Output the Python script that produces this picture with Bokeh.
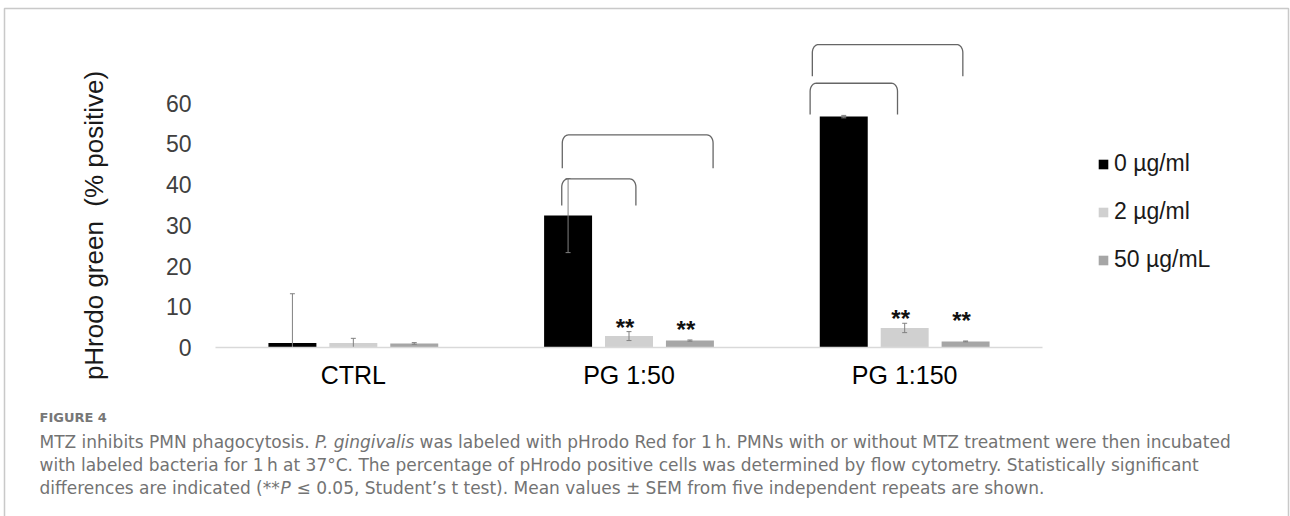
import numpy as np
from bokeh.plotting import figure
from bokeh.models import (Range1d, FixedTicker, Legend, LegendItem,
                          Label, BoxAnnotation, ColumnDataSource)
from bokeh.core.properties import value
from bokeh.embed import file_html
from bokeh.resources import INLINE

# ---------------- data ----------------
groups = ["CTRL", "PG 1:50", "PG 1:150"]
series = ["0 µg/ml", "2 µg/ml", "50 µg/mL"]
colors = ["#000000", "#d0d0d0", "#a6a6a6"]
mean_0 = [1.1, 32.4, 56.7]
mean_2 = [1.1, 2.8, 4.8]
mean_50 = [1.0, 1.7, 1.5]
sem_0 = [12.1, 9.1, 0.3]
sem_2 = [1.15, 1.1, 1.15]
sem_50 = [0.2, 0.15, 0.1]
y_ticks = [0, 10, 20, 30, 40, 50, 60]
y_title = "pHrodo green\u00a0 (% positive)"

# significance brackets: group index, left/right offset (category units), top, leg bottom
br_group = [1, 1, 2, 2]
br_left = [-0.244, -0.242, -0.343, -0.335]
br_right = [0.025, 0.305, -0.026, 0.211]
br_top = [41.4, 52.2, 64.9, 74.4]
br_bottom = [34.9, 44.0, 57.2, 66.6]

# "**" markers: group index, series index, visual centre (y units)
star_group = [1, 1, 2, 2]
star_series = [1, 2, 1, 2]
star_center = [5.4, 5.0, 7.5, 7.0]

caption_head = "FIGURE 4"
caption_lines = [
    ["MTZ inhibits PMN phagocytosis.", "P. gingivalis",
     "was labeled with pHrodo Red for 1\u2009h. PMNs with or without MTZ treatment were then incubated"],
    ["with labeled bacteria for 1\u2009h at 37\u00b0C. The percentage of pHrodo positive cells was determined by flow cytometry. Statistically significant"],
    ["differences are indicated (**", "P",
     "\u2264 0.05, Student\u2019s t test). Mean values \u00b1 SEM from five independent repeats are shown."],
]
caption_seg_x = [[39, 314.5, 419], [39], [39, 280, 296]]
caption_italic = [[False, True, False], [False], [False, True, False]]
caption_baseline = [441, 464, 487]

# ---------------- layout constants ----------------
W, H = 1290, 516
PX_X = 275.67          # pixels per category
X0 = 215               # pixel of category axis start
PX_Y = 4.072           # pixels per y unit
Y0 = 347               # pixel of y = 0
offsets = [-0.221, 0.0, 0.221]
bar_w = 0.174
FONT = "Liberation Sans"
CAP_FONT = "DejaVu Sans"

p = figure(width=W, height=H, output_backend="svg", toolbar_location=None,
           x_range=Range1d(-X0 / PX_X, (W - X0) / PX_X),
           y_range=Range1d(-(H - Y0) / PX_Y, Y0 / PX_Y),
           min_border_left=0, min_border_right=0, min_border_top=0, min_border_bottom=0)
p.outline_line_color = None
p.xgrid.grid_line_color = None
p.ygrid.grid_line_color = None
p.background_fill_color = "white"
p.border_fill_color = "white"

means = [mean_0, mean_2, mean_50]
sems = [sem_0, sem_2, sem_50]
renderers = []
for k in range(3):
    xs = [g + 0.5 + offsets[k] for g in range(len(groups))]
    src = ColumnDataSource(dict(x=xs, top=means[k]))
    r = p.vbar(x="x", top="top", width=bar_w, source=src,
               fill_color=colors[k], line_color=None)
    renderers.append(r)

# error bars (clipped at the axis minimum, as in the original)
cw = 0.009
for k in range(3):
    xs = np.array([g + 0.5 + offsets[k] for g in range(len(groups))])
    m = np.array(means[k]); s = np.array(sems[k])
    lo, hi = np.maximum(m - s, 0), m + s
    p.segment(x0=xs, y0=lo, x1=xs, y1=hi, line_color="#808080", line_width=1)
    p.segment(x0=xs - cw, y0=hi, x1=xs + cw, y1=hi, line_color="#808080", line_width=1)
    keep = (m - s) > 0
    p.segment(x0=xs[keep] - cw, y0=lo[keep], x1=xs[keep] + cw, y1=lo[keep],
              line_color="#808080", line_width=1)

# brackets
rx, ry = 0.022, 2.0
t = np.linspace(0, np.pi / 2, 10)
bxs, bys = [], []
for g, L0, R0, top, bot in zip(br_group, br_left, br_right, br_top, br_bottom):
    c = g + 0.5
    L, R = c + L0, c + R0
    x = [L] + list(L + rx - rx * np.cos(t)) + list(R - rx + rx * np.sin(t)) + [R]
    y = [bot] + list(top - ry + ry * np.sin(t)) + list(top - ry + ry * np.cos(t)) + [bot]
    bxs.append(x); bys.append(y)
p.multi_line(xs=bxs, ys=bys, line_color="#666666", line_width=1.3)

# stars
sx = [g + 0.5 + offsets[s] for g, s in zip(star_group, star_series)]
sy = [c - 2.0 / PX_Y for c in star_center]
p.text(x=sx, y=sy, text=["**"] * len(sx), text_font=value(FONT),
       text_font_size="24px", text_font_style="bold", text_align="center",
       text_baseline="alphabetic", x_offset=-4, text_color="#111111")

# axes (fixed inside the full-canvas frame)
p.xaxis.fixed_location = 0
p.xaxis.bounds = (0, len(groups))
p.xaxis.ticker = FixedTicker(ticks=[g + 0.5 for g in range(len(groups))])
p.xaxis.major_label_overrides = {g + 0.5: name for g, name in enumerate(groups)}
p.xaxis.axis_line_color = "#d9d9d9"
p.xaxis.axis_line_width = 1.5
p.xaxis.major_tick_line_color = None
p.xaxis.minor_tick_line_color = None
p.xaxis.major_label_text_font = FONT
p.xaxis.major_label_text_font_size = "25px"
p.xaxis.major_label_text_color = "#000000"
p.xaxis.major_label_standoff = 7

p.yaxis.fixed_location = 0
p.yaxis.bounds = (y_ticks[0], y_ticks[-1])
p.yaxis.ticker = FixedTicker(ticks=y_ticks)
p.yaxis.axis_line_color = None
p.yaxis.major_tick_line_color = None
p.yaxis.minor_tick_line_color = None
p.yaxis.major_label_text_font = FONT
p.yaxis.major_label_text_font_size = "23px"
p.yaxis.major_label_text_color = "#404040"
p.yaxis.major_label_standoff = 18
p.yaxis.axis_label = y_title
p.yaxis.axis_label_text_font = FONT
p.yaxis.axis_label_text_font_size = "26px"
p.yaxis.axis_label_text_font_style = "normal"
p.yaxis.axis_label_text_color = "#1a1a1a"
p.yaxis.axis_label_standoff = 54

# legend
legend = Legend(items=[LegendItem(label=s, renderers=[r]) for s, r in zip(series, renderers)],
                location=(1097, H - 273), glyph_width=12, glyph_height=12, label_standoff=5,
                spacing=21, padding=0, margin=0, border_line_color=None,
                background_fill_alpha=0, label_text_font=FONT,
                label_text_font_size="23px", label_text_color="#1a1a1a")
p.add_layout(legend)

# caption (screen pixels from the canvas bottom-left)
p.add_layout(Label(x=39, y=H - 417, x_units="screen", y_units="screen",
                   text=caption_head, text_font=CAP_FONT, text_font_size="13px",
                   text_font_style="bold", text_color="#777777", text_baseline="alphabetic"))
for segs, xs, its, b in zip(caption_lines, caption_seg_x, caption_italic, caption_baseline):
    for s, x, it in zip(segs, xs, its):
        p.add_layout(Label(x=x, y=H - b, x_units="screen", y_units="screen",
                           text=s, text_font=CAP_FONT, text_font_size="17px",
                           text_font_style="italic" if it else "normal",
                           text_color="#737373", text_baseline="alphabetic"))

# thin frame around the whole figure
p.add_layout(BoxAnnotation(left=4, right=1288, top=H - 8, bottom=-20,
                           left_units="screen", right_units="screen",
                           top_units="screen", bottom_units="screen",
                           fill_alpha=0, line_color="#4d4d4d", line_width=1.5))

open("out.html", "w").write(file_html(p, INLINE))
